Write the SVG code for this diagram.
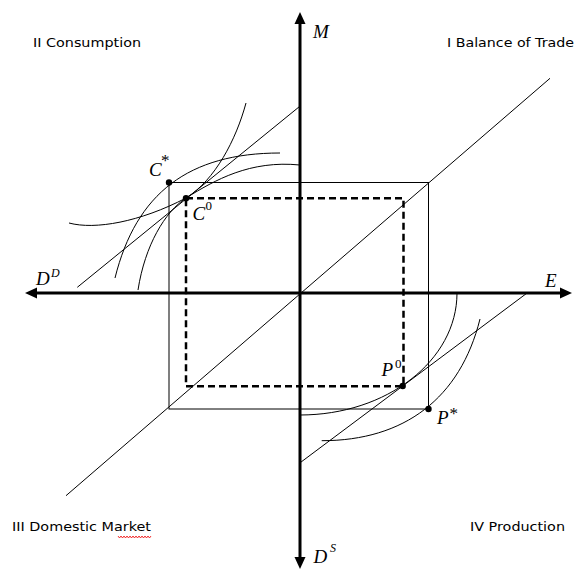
<svg xmlns="http://www.w3.org/2000/svg" width="574" height="571" viewBox="0 0 574 571">
<style>
.axis{stroke:#000;stroke-width:3;fill:none}
.thin{stroke:#000;stroke-width:1;fill:none}
.dash{stroke:#000;stroke-width:2.5;fill:none;stroke-dasharray:7,4}
.q{font-family:"DejaVu Sans","Liberation Sans",sans-serif;font-size:13px;fill:#000}
.m{font-family:"Liberation Serif","Times New Roman",serif;font-style:italic;font-size:19px;fill:#000}
.sup{font-family:"Liberation Serif","Times New Roman",serif;font-size:13px;fill:#000}
.ast{font-family:"Liberation Serif","Times New Roman",serif;font-size:17px;fill:#000}
.supi{font-family:"Liberation Serif","Times New Roman",serif;font-style:italic;font-size:12px;fill:#000}
</style>
<rect width="574" height="571" fill="#fff"/>
<g id="connectors">
  <g id="axes">
    <line class="axis" x1="300" y1="22" x2="300" y2="559"/>
    <polygon points="300,12 294.5,24 305.5,24" fill="#000"/>
    <polygon points="300,569 294.5,557 305.5,557" fill="#000"/>
    <line class="axis" x1="35" y1="293" x2="562" y2="293"/>
    <polygon points="25,293 37,287.5 37,298.5" fill="#000"/>
    <polygon points="572,293 560,287.5 560,298.5" fill="#000"/>
  </g>
  <line id="diag45" class="thin" x1="66" y1="495.7" x2="550" y2="78.3"/>
  <line id="budget" class="thin" x1="77.3" y1="287.3" x2="299.3" y2="106.7"/>
  <line id="price4" class="thin" x1="300.7" y1="462.3" x2="526.7" y2="293.3"/>
  <rect id="solidRect" class="thin" x="169" y="182.5" width="259.5" height="226.5"/>
  <path id="dashRect" class="dash" d="M186,198.3 H403.5 V386.3 H186 Z"/>
  <path id="curveA" class="thin" d="M115,278 C136.1,193 188.9,153 280,153"/>
  <path id="curveB" class="thin" d="M69,223 C95,230 140,222 186,198 C215,180 250,160 300,165"/>
  <path id="curveCD" class="thin" d="M246,103 C236,140 215,180 186,198 C165,212 145,245 138,290"/>
  <path id="curveE" class="thin" d="M457,293 C457,360.4 386.7,415 300,415"/>
  <path id="curveF" class="thin" d="M480,319 C460.2,398.2 404.5,440.7 321.7,440.7"/>
</g>
<g id="points">
  <circle id="Cstar" cx="169" cy="182.5" r="3.2" fill="#000"/>
  <circle id="C0" cx="186" cy="198.3" r="3.2" fill="#000"/>
  <circle id="P0" cx="402.7" cy="386" r="3.2" fill="#000"/>
  <circle id="Pstar" cx="428.5" cy="409" r="3.2" fill="#000"/>
</g>
<g id="labels">
  <text class="m" x="313" y="38">M</text>
  <text class="m" x="545" y="286.5">E</text>
  <g id="lblDD"><text class="m" x="36" y="284.5">D</text><text class="supi" x="51" y="276.5">D</text></g>
  <g id="lblDS"><text class="m" x="313.5" y="562.5">D</text><text class="supi" x="330" y="552">S</text></g>
  <g id="lblCstar"><text class="m" x="149" y="176">C</text><text class="ast" x="161" y="166">*</text></g>
  <g id="lblC0"><text class="m" x="192.5" y="220">C</text><text class="sup" x="205.5" y="210">0</text></g>
  <g id="lblP0"><text class="m" x="381.5" y="376">P</text><text class="sup" x="395" y="367.5">0</text></g>
  <g id="lblPstar"><text class="m" x="437" y="424">P</text><text class="ast" x="449.5" y="419">*</text></g>
  <text id="q2" class="q" x="33" y="47" textLength="108" lengthAdjust="spacingAndGlyphs">II Consumption</text>
  <text id="q1" class="q" x="447" y="47" textLength="127" lengthAdjust="spacingAndGlyphs">I Balance of Trade</text>
  <text id="q3" class="q" x="12" y="531" textLength="139" lengthAdjust="spacingAndGlyphs">III Domestic Market</text>
  <text id="q4" class="q" x="470" y="531" textLength="95" lengthAdjust="spacingAndGlyphs">IV Production</text>
  <polyline id="squiggle" points="118,536 119.5,538 121,536 122.5,538 124,536 125.5,538 127,536 128.5,538 130,536 131.5,538 133,536 134.5,538 136,536 137.5,538 139,536 140.5,538 142,536 143.5,538 145,536 146.5,538 148,536 149.5,538 151,536" fill="none" stroke="#e00" stroke-width="0.8"/>
</g>
</svg>
